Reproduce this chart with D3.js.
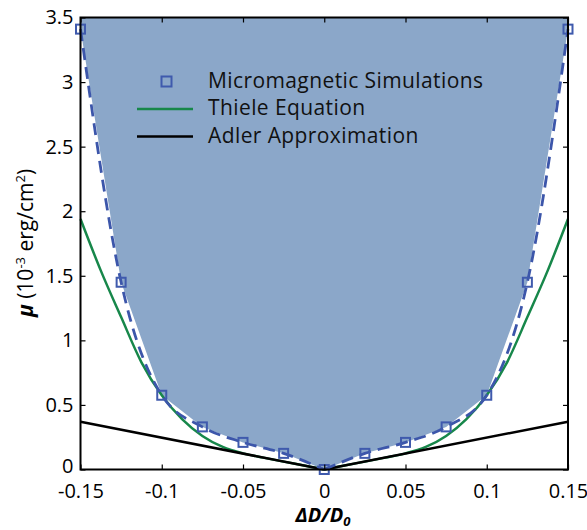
<!DOCTYPE html>
<html>
<head>
<meta charset="utf-8">
<script src="https://cdn.jsdelivr.net/npm/d3@7"></script>
<style>
  body { margin: 0; background: #fff; }
  svg { font-family: "Open Sans", sans-serif; }
</style>
</head>
<body>
<svg width="587" height="530"></svg>
<script>
// micromagnetic simulations (squares + dashed curve)
var simX  = [-0.15, -0.125, -0.1, -0.075, -0.05, -0.025, 0, 0.025, 0.05, 0.075, 0.1, 0.125, 0.15];
var simMu = [3.41, 1.45, 0.575, 0.33, 0.21, 0.125, 0, 0.125, 0.21, 0.33, 0.575, 1.45, 3.41];

// Thiele equation (green)
var thieleX  = [-0.15, -0.1375, -0.125, -0.1125, -0.1, -0.0875, -0.075, -0.0625, -0.05, -0.0375, -0.025, -0.0125, 0,
                0.0125, 0.025, 0.0375, 0.05, 0.0625, 0.075, 0.0875, 0.1, 0.1125, 0.125, 0.1375, 0.15];
var thieleMu = [1.94, 1.54, 1.18, 0.83, 0.575, 0.39, 0.26, 0.175, 0.125, 0.092, 0.061, 0.031, 0,
                0.031, 0.061, 0.092, 0.125, 0.175, 0.26, 0.39, 0.575, 0.83, 1.18, 1.54, 1.94];

// Adler approximation (black)
var adlerX  = [-0.15, 0, 0.15];
var adlerMu = [0.37, 0, 0.37];

var xTicks = [-0.15, -0.1, -0.05, 0, 0.05, 0.1, 0.15];
var yTicks = [0, 0.5, 1, 1.5, 2, 2.5, 3, 3.5];

var legendLabels = ["Micromagnetic Simulations", "Thiele Equation", "Adler Approximation"];

var svg = d3.select("svg");

var mLeft = 80.5, mRight = 568, mTop = 17.5, mBottom = 469.5;

var x = d3.scaleLinear().domain([-0.15, 0.15]).range([mLeft, mRight]);
var y = d3.scaleLinear().domain([0, 3.5]).range([mBottom, mTop]);

function pts(xs, ys) {
  return xs.map(function(d, i) { return [d, ys[i]]; });
}

var sim = pts(simX, simMu),
    thiele = pts(thieleX, thieleMu),
    adler = pts(adlerX, adlerMu);

// shaded region above the simulation points
var area = d3.area()
    .x(function(d) { return x(d[0]); })
    .y0(y(3.5))
    .y1(function(d) { return y(d[1]); });

svg.append("path")
    .datum(sim)
    .attr("d", area)
    .attr("fill", "#8ba7c9");

var line = d3.line()
    .x(function(d) { return x(d[0]); })
    .y(function(d) { return y(d[1]); })
    .curve(d3.curveMonotoneX);

// draw each half separately so the cusp at 0 stays sharp
function halves(data) {
  return [data.filter(function(d) { return d[0] <= 0; }),
          data.filter(function(d) { return d[0] >= 0; })];
}

svg.append("g").selectAll("path")
    .data(halves(thiele))
    .enter().append("path")
    .attr("d", line)
    .attr("fill", "none")
    .attr("stroke", "#17874a")
    .attr("stroke-width", 2.5);

svg.append("path")
    .datum(adler)
    .attr("d", d3.line().x(function(d) { return x(d[0]); }).y(function(d) { return y(d[1]); }))
    .attr("fill", "none")
    .attr("stroke", "#000")
    .attr("stroke-width", 2.5);

svg.append("g").selectAll("path")
    .data(halves(sim))
    .enter().append("path")
    .attr("d", line)
    .attr("fill", "none")
    .attr("stroke", "#3c56aa")
    .attr("stroke-width", 2.8)
    .attr("stroke-dasharray", "12,7");

svg.append("g").selectAll("rect")
    .data(sim)
    .enter().append("rect")
    .attr("x", function(d) { return x(d[0]) - 4.5; })
    .attr("y", function(d) { return y(d[1]) - 4.5; })
    .attr("width", 9)
    .attr("height", 9)
    .attr("fill", "none")
    .attr("stroke", "#3f5aad")
    .attr("stroke-width", 2);

// axes, ticks pointing inward
var fmt = function(d) { return String(+d.toFixed(2)); };

svg.append("g")
    .attr("transform", "translate(0," + mBottom + ")")
    .call(d3.axisBottom(x).tickValues(xTicks).tickFormat(fmt).tickSizeInner(-5).tickSizeOuter(0).tickPadding(14));
svg.append("g")
    .attr("transform", "translate(0," + mTop + ")")
    .call(d3.axisTop(x).tickValues(xTicks).tickFormat("").tickSizeInner(-5).tickSizeOuter(0));
var yAxisG = svg.append("g")
    .attr("transform", "translate(" + mLeft + ",0)")
    .call(d3.axisLeft(y).tickValues(yTicks).tickFormat(fmt).tickSizeInner(-5).tickSizeOuter(0).tickPadding(7));
svg.append("g")
    .attr("transform", "translate(" + mRight + ",0)")
    .call(d3.axisRight(y).tickValues(yTicks).tickFormat("").tickSizeInner(-5).tickSizeOuter(0));

svg.selectAll(".domain").remove();
svg.selectAll(".tick line").attr("stroke", "#000").attr("stroke-width", 1.2);
svg.selectAll(".tick text")
    .attr("font-family", "Open Sans, sans-serif")
    .attr("font-size", 20)
    .attr("fill", "#000");

// the bottom "0" sits a little above its tick, clear of the x labels
yAxisG.selectAll(".tick text").filter(function(d) { return d === 0; }).attr("dy", "0.15em");

svg.append("rect")
    .attr("x", mLeft)
    .attr("y", mTop)
    .attr("width", mRight - mLeft)
    .attr("height", mBottom - mTop)
    .attr("fill", "none")
    .attr("stroke", "#000")
    .attr("stroke-width", 2);

// axis titles
var xt = svg.append("text")
    .attr("x", 323)
    .attr("y", 522)
    .attr("text-anchor", "middle")
    .attr("font-size", 20)
    .attr("font-weight", "bold")
    .attr("font-style", "italic");
xt.append("tspan").text("ΔD/D");
xt.append("tspan").attr("font-size", 13).attr("dy", 4).text("0");

var yt = svg.append("text")
    .attr("transform", "translate(33,243) rotate(-90)")
    .attr("text-anchor", "middle")
    .attr("font-size", 21);
yt.append("tspan").attr("font-weight", "bold").attr("font-style", "italic").text("μ");
yt.append("tspan").text(" (10");
yt.append("tspan").attr("font-size", 13).attr("dy", -8).text("-3");
yt.append("tspan").attr("dy", 8).text(" erg/cm");
yt.append("tspan").attr("font-size", 13).attr("dy", -8).text("2");
yt.append("tspan").attr("dy", 8).text(")");

// legend
var legendY = [81.5, 109, 136.5];
var legend = svg.append("g");

legend.append("rect")
    .attr("x", 166.5 - 5)
    .attr("y", legendY[0] - 5)
    .attr("width", 10)
    .attr("height", 10)
    .attr("fill", "none")
    .attr("stroke", "#3f5aad")
    .attr("stroke-width", 2);

legend.append("line")
    .attr("x1", 137).attr("x2", 193)
    .attr("y1", legendY[1]).attr("y2", legendY[1])
    .attr("stroke", "#17874a").attr("stroke-width", 2.5);

legend.append("line")
    .attr("x1", 137).attr("x2", 193)
    .attr("y1", legendY[2]).attr("y2", legendY[2])
    .attr("stroke", "#000").attr("stroke-width", 2.5);

legend.selectAll("text")
    .data(legendLabels)
    .enter().append("text")
    .attr("x", 208)
    .attr("y", function(d, i) { return legendY[i] + 6; })
    .attr("font-size", 21)
    .attr("letter-spacing", 0.4)
    .attr("fill", "#111")
    .text(function(d) { return d; });
</script>
</body>
</html>
